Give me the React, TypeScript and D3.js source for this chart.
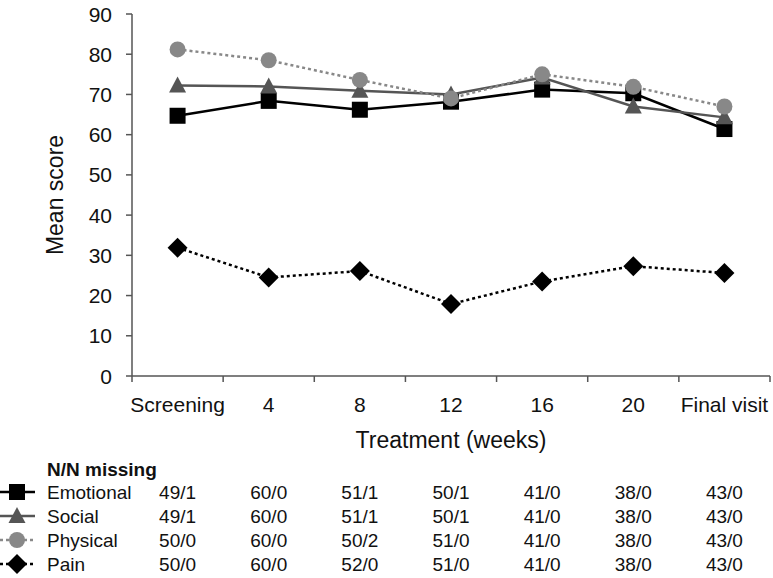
import React from "react";
import * as d3 from "d3";

const categories = ["Screening", "4", "8", "12", "16", "20", "Final visit"];
const emotional = [64.7, 68.4, 66.2, 68.2, 71.2, 70.3, 61.4];
const social = [72.2, 72.0, 70.9, 70.0, 74.2, 67.0, 64.3];
const physical = [81.2, 78.5, 73.6, 69.0, 75.0, 71.9, 67.0];
const pain = [31.9, 24.5, 26.1, 17.9, 23.5, 27.3, 25.6];
const yTicks = [0, 10, 20, 30, 40, 50, 60, 70, 80, 90];
const seriesNames = ["Emotional", "Social", "Physical", "Pain"];
const nMissing = [
  ["49/1", "60/0", "51/1", "50/1", "41/0", "38/0", "43/0"],
  ["49/1", "60/0", "51/1", "50/1", "41/0", "38/0", "43/0"],
  ["50/0", "60/0", "50/2", "51/0", "41/0", "38/0", "43/0"],
  ["50/0", "60/0", "52/0", "51/0", "41/0", "38/0", "43/0"],
];

const W = 773, H = 578;
const left = 132, right = 770, top = 14, bottom = 376;
const FONT = "'Liberation Sans', Arial, sans-serif";

type Style = { color: string; fill: string; dash?: string; shape: string };
const styles: Style[] = [
  { color: "#000", fill: "#000", shape: "square" },
  { color: "#555", fill: "#555", shape: "triangle" },
  { color: "#888", fill: "#888", dash: "3,3", shape: "circle" },
  { color: "#000", fill: "#000", dash: "3,3", shape: "diamond" },
];

function Marker({ x, y, s }: { x: number; y: number; s: Style }) {
  if (s.shape === "square") return <rect x={x - 8} y={y - 8} width={16} height={16} fill={s.fill} />;
  if (s.shape === "circle") return <circle cx={x} cy={y} r={8} fill={s.fill} />;
  if (s.shape === "triangle")
    return <path d={`M${x},${y - 9}L${x + 8.5},${y + 7}L${x - 8.5},${y + 7}Z`} fill={s.fill} />;
  return <path d={`M${x},${y - 10}L${x + 10},${y}L${x},${y + 10}L${x - 10},${y}Z`} fill={s.fill} />;
}

export default function App() {
  const x = d3.scaleBand<string>().domain(categories).range([left, right]);
  const y = d3.scaleLinear().domain([0, 90]).range([bottom, top]);
  const data = [emotional, social, physical, pain];
  const line = d3
    .line<number>()
    .x((_, i) => (x(categories[i]) as number) + x.bandwidth() / 2)
    .y((d) => y(d));
  const order = [3, 0, 1, 2];
  const boundaries = categories.map((c) => x(c) as number).concat([right]);
  const rowY = [492, 516, 540, 564];

  return (
    <svg width={W} height={H} style={{ position: "absolute", left: 0, top: 0, background: "#fff" }} fontFamily={FONT}>
      {/* y axis */}
      <line x1={left} x2={left} y1={top} y2={bottom} stroke="#555" strokeWidth={1.5} />
      {yTicks.map((t) => (
        <g key={t}>
          <line x1={left - 6} x2={left} y1={y(t)} y2={y(t)} stroke="#555" strokeWidth={1.5} />
          <text x={112} y={y(t)} dy="0.36em" textAnchor="end" fontSize={21} fill="#111">
            {t}
          </text>
        </g>
      ))}
      {/* x axis */}
      <line x1={left} x2={right} y1={bottom} y2={bottom} stroke="#555" strokeWidth={1.5} />
      {boundaries.map((b, i) => (
        <line key={i} x1={b} x2={b} y1={bottom} y2={bottom + 6} stroke="#555" strokeWidth={1.5} />
      ))}
      {categories.map((c) => (
        <text key={c} x={(x(c) as number) + x.bandwidth() / 2} y={404} dy="0.36em" textAnchor="middle" fontSize={21} fill="#111">
          {c}
        </text>
      ))}
      <text x={451} y={440} dy="0.36em" textAnchor="middle" fontSize={23} fill="#111">
        Treatment (weeks)
      </text>
      <text transform={`translate(55,195) rotate(-90)`} dy="0.36em" textAnchor="middle" fontSize={23} fill="#111">
        Mean score
      </text>
      {/* series */}
      {order.map((k) => (
        <g key={k}>
          <path d={line(data[k]) as string} fill="none" stroke={styles[k].color} strokeWidth={2.5} strokeDasharray={styles[k].dash} />
          {data[k].map((v, i) => (
            <Marker key={i} x={(x(categories[i]) as number) + x.bandwidth() / 2} y={y(v)} s={styles[k]} />
          ))}
        </g>
      ))}
      {/* table */}
      <text x={47} y={469} dy="0.36em" fontSize={19} fontWeight="bold" fill="#111">
        N/N missing
      </text>
      {seriesNames.map((n, r) => (
        <g key={n}>
          <line x1={0} x2={35} y1={rowY[r]} y2={rowY[r]} stroke={styles[r].color} strokeWidth={2.5} strokeDasharray={styles[r].dash} />
          <Marker x={17} y={rowY[r]} s={styles[r]} />
          <text x={47} y={rowY[r]} dy="0.36em" fontSize={19} fill="#111">
            {n}
          </text>
          {nMissing[r].map((v, i) => (
            <text key={i} x={(x(categories[i]) as number) + x.bandwidth() / 2} y={rowY[r]} dy="0.36em" textAnchor="middle" fontSize={19} fill="#111">
              {v}
            </text>
          ))}
        </g>
      ))}
    </svg>
  );
}
